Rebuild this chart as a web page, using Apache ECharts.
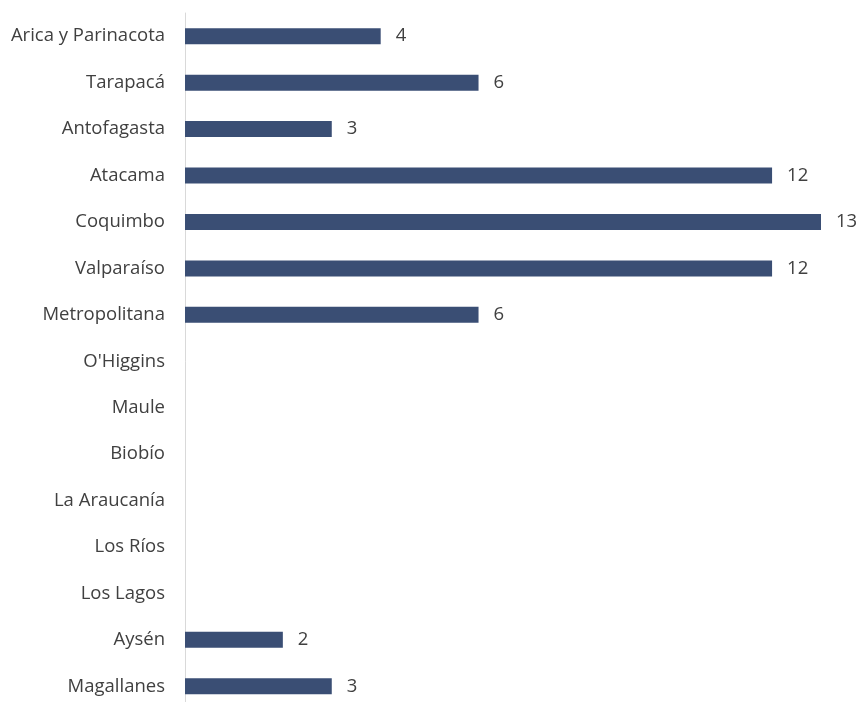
<!DOCTYPE html>
<html>
<head>
<meta charset="utf-8">
<script src="https://cdn.jsdelivr.net/npm/echarts@6/dist/echarts.min.js"></script>
<style>
  html, body { margin: 0; padding: 0; background: #ffffff; overflow: hidden; }
  #chart { width: 861px; height: 720px; }
</style>
</head>
<body>
<div id="chart"></div>
<script>
// Regions of Chile, north to south
const regions = [
  'Arica y Parinacota', 'Tarapacá', 'Antofagasta', 'Atacama', 'Coquimbo',
  'Valparaíso', 'Metropolitana', "O'Higgins", 'Maule', 'Biobío',
  'La Araucanía', 'Los Ríos', 'Los Lagos', 'Aysén', 'Magallanes'
];
// Count per region (empty where no value)
const counts = [4, 6, 3, 12, 13, 12, 6, null, null, null, null, null, null, 2, 3];

const FONT = '"Open Sans", Lato, sans-serif';

const chart = echarts.init(document.getElementById('chart'), null, { renderer: 'canvas' });
chart.setOption({
  animation: false,
  grid: { left: 185, right: 40, top: 13, height: 696.5, containLabel: false },
  xAxis: {
    type: 'value', min: 0, max: 13,
    show: false
  },
  yAxis: {
    type: 'category',
    data: regions,
    inverse: true,
    axisLine: { show: true, lineStyle: { color: '#d9d9d9', width: 1 } },
    axisTick: { show: false },
    axisLabel: {
      color: '#404040', fontSize: 18.5, fontFamily: FONT,
      margin: 20
    }
  },
  series: [{
    type: 'bar',
    data: counts,
    barWidth: 16,
    itemStyle: { color: '#3a4e74' },
    label: {
      show: true, position: 'right', distance: 15,
      color: '#404040', fontSize: 18.5, fontFamily: FONT
    }
  }]
});
</script>
</body>
</html>
